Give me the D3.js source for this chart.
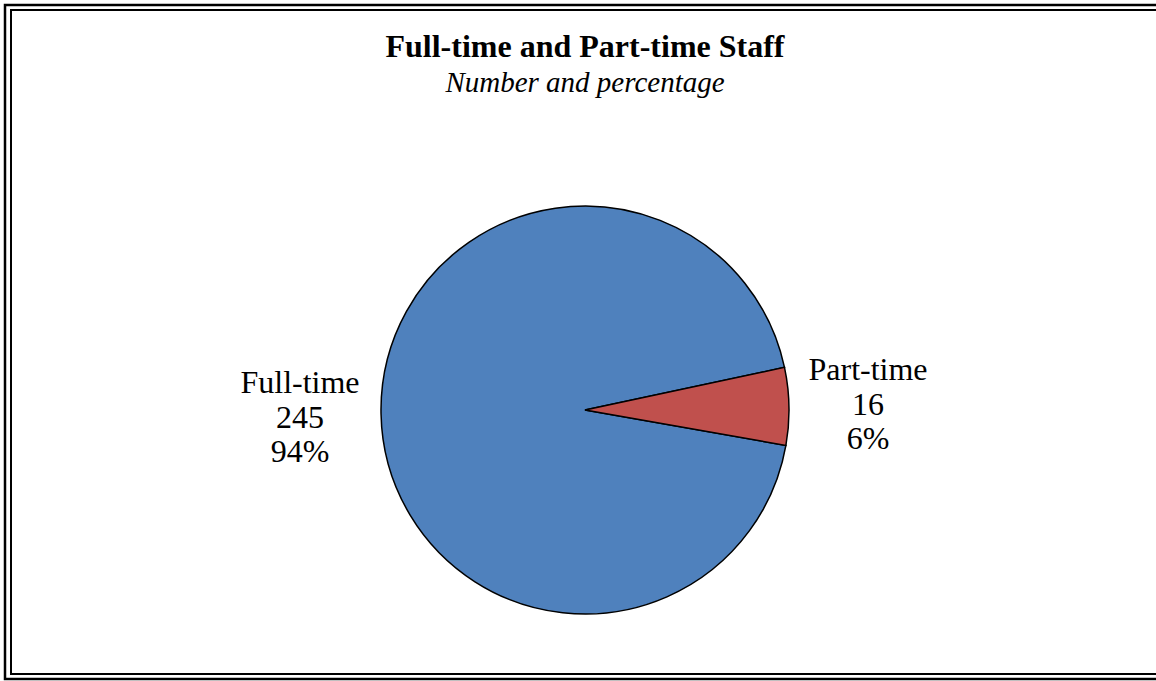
<!DOCTYPE html>
<html>
<head>
<meta charset="utf-8">
<script src="https://cdn.jsdelivr.net/npm/d3@7"></script>
<style>
  body { margin: 0; background: #fff; }
  text { font-family: "Liberation Serif", "Times New Roman", serif; fill: #000; }
</style>
</head>
<body>
<div id="chart"></div>
<script>
const categories = ["Full-time", "Part-time"];
const counts = [245, 16];
const percentLabels = ["94%", "6%"];
const colors = ["#4f81bd", "#c0504d"];

const width = 1156, height = 681;
const svg = d3.select("#chart").append("svg")
  .attr("width", width)
  .attr("height", height);

// double frame (runs off the right edge like the original)
svg.append("rect")
  .attr("x", 5).attr("y", 5)
  .attr("width", 1160).attr("height", 674)
  .attr("fill", "none").attr("stroke", "#000").attr("stroke-width", 2.5);
svg.append("rect")
  .attr("x", 11).attr("y", 10)
  .attr("width", 1150).attr("height", 664)
  .attr("fill", "none").attr("stroke", "#000").attr("stroke-width", 2);

// titles
svg.append("text")
  .attr("x", 585).attr("y", 57)
  .attr("text-anchor", "middle")
  .style("font-size", "32px").style("font-weight", "bold")
  .text("Full-time and Part-time Staff");
svg.append("text")
  .attr("x", 585).attr("y", 92)
  .attr("text-anchor", "middle")
  .style("font-size", "29px").style("font-style", "italic")
  .text("Number and percentage");

const cx = 585, cy = 410, r = 204;
const data = categories.map((c, i) => ({name: c, value: counts[i], pct: percentLabels[i], color: colors[i]}));

const startDeg = 100;
const pie = d3.pie()
  .value(d => d.value)
  .sort(null)
  .startAngle(startDeg * Math.PI / 180)
  .endAngle((startDeg + 360) * Math.PI / 180);

const arc = d3.arc().innerRadius(0).outerRadius(r);

const g = svg.append("g").attr("transform", `translate(${cx},${cy})`);
const arcs = pie(data);

g.selectAll("path")
  .data(arcs)
  .join("path")
  .attr("d", arc)
  .attr("fill", d => d.data.color)
  .attr("stroke", "#000")
  .attr("stroke-width", 1.5);

// labels outside the pie
const labelPos = {"Full-time": [-285, -17], "Part-time": [283, -30]};
arcs.forEach(a => {
  const p = labelPos[a.data.name];
  const t = g.append("text")
    .attr("text-anchor", "middle")
    .attr("transform", `translate(${p[0]},${p[1]})`)
    .style("font-size", "32px");
  [a.data.name, a.data.value, a.data.pct].forEach((s, i) => {
    t.append("tspan").attr("x", 0).attr("dy", i === 0 ? 0 : 34.5).text(s);
  });
});
</script>
</body>
</html>
